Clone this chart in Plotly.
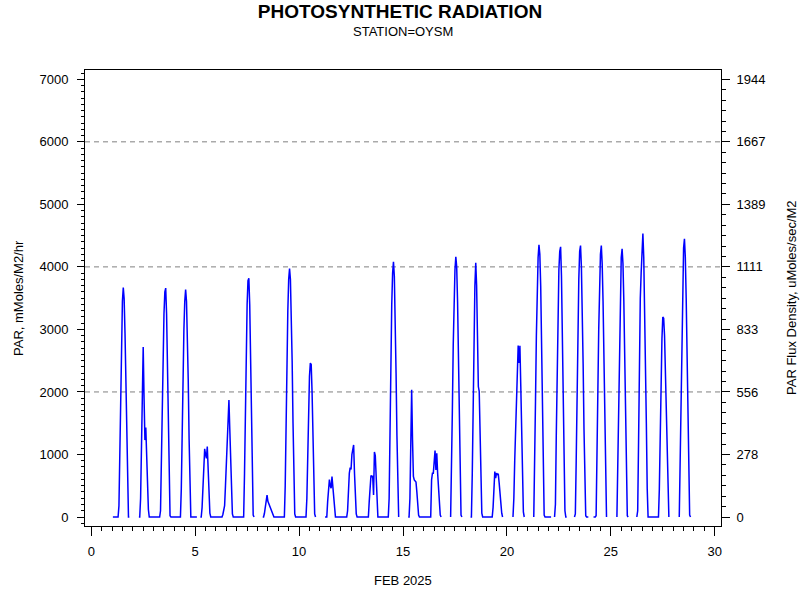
import plotly.graph_objects as go

N = None

# Hourly PAR values (mMoles/M2/hr), hours 0..23 for each day of FEB 2025 (None = missing)
day01 = [N,0,0,0,0,0,0,0,180,1100,2130,2940,3450,3670,3490,2940,2060,1030,150,0,0,N,N,N]
day02 = [N,N,N,N,N,N,N,0,0,300,1200,2100,2720,1900,1230,1430,900,450,120,0,0,0,0,0]
day03 = [0,0,0,0,0,0,0,0,100,900,1900,2700,3250,3600,3660,3250,2500,1500,500,20,0,0,0,0]
day04 = [0,0,0,0,0,0,0,0,450,1450,2350,3000,3450,3636,3450,2950,2200,1250,350,0,0,0,0,0]
day05 = [0,0,0,N,N,N,0,0,150,550,900,1090,1000,940,1126,700,300,60,0,0,0,0,0,0]
day06 = [0,0,0,0,0,0,0,0,40,100,180,500,900,1350,1700,1869,1400,800,300,50,0,0,0,0]
day07 = [0,0,0,0,0,0,0,0,0,700,1800,2750,3400,3780,3820,3400,2600,1500,500,30,0,N,N,N]
day08 = [N,N,N,N,N,N,0,0,60,180,280,350,250,210,180,150,100,50,10,0,0,0,0,0]
day09 = [0,0,0,0,0,0,0,0,500,1600,2600,3300,3800,3972,3800,3300,2500,1500,500,50,0,0,0,0]
day10 = [0,0,0,0,0,0,0,0,0,300,1100,1800,2250,2462,2440,2000,1300,500,50,0,N,N,N,N]
day11 = [N,N,N,N,N,N,0,0,0,250,450,600,500,460,646,450,250,80,0,0,0,0,0,0]
day12 = [0,0,0,0,0,0,0,0,100,450,700,790,760,1000,1126,1153,700,300,50,0,0,0,0,0]
day13 = [0,0,0,0,0,0,0,0,0,250,600,662,646,650,352,1040,980,550,150,0,0,0,0,0]
day14 = [0,0,0,0,0,0,0,0,300,1500,2600,3400,3900,4080,3850,3200,2300,1300,300,0,N,N,N,N]
day15 = [N,N,N,N,N,N,0,0,300,1200,2034,1233,650,593,570,560,400,200,30,0,0,0,0,0]
day16 = [0,0,0,0,0,0,0,0,0,593,700,700,850,1062,753,1020,700,400,200,30,0,N,N,N]
day17 = [N,N,N,N,N,N,N,0,600,1700,2750,3500,3950,4160,4000,3450,2600,1500,500,30,0,N,N,N]
day18 = [N,N,N,N,N,N,0,0,700,1900,3000,3700,4064,3700,2900,2087,2010,1100,400,60,0,0,0,0]
day19 = [0,0,0,0,0,0,0,0,150,450,726,620,700,680,690,550,350,200,60,0,N,N,N,N]
day20 = [N,N,N,N,N,N,N,0,300,900,1300,1800,2300,2744,2462,2739,2100,1200,500,80,0,N,N,N]
day21 = [N,N,N,N,N,N,N,0,650,1850,2900,3650,4150,4352,4200,3700,2850,1800,600,30,0,0,0,0]
day22 = [0,0,0,0,N,N,N,0,200,1300,2500,3400,3950,4250,4320,3850,3000,1900,800,100,0,0,N,N]
day23 = [N,N,N,N,N,N,0,50,900,2100,3100,3800,4250,4341,4000,3350,2450,1400,400,20,0,0,0,N]
day24 = [N,N,N,N,0,0,0,20,750,2000,3000,3750,4200,4341,4050,3450,2550,1500,450,0,N,N,N,N]
day25 = [N,N,N,N,N,N,N,0,800,1950,2950,3700,4150,4288,4050,3450,2600,1550,500,20,0,N,N,N]
day26 = [N,N,N,N,N,N,0,100,1200,2500,3500,3903,4200,4533,4150,3450,2550,1500,450,0,0,0,0,0]
day27 = [0,0,0,0,0,0,0,0,450,1400,2200,2850,3200,3180,2900,2350,1650,950,300,0,N,N,N,N]
day28 = [N,N,N,N,N,N,N,0,800,2050,3100,3850,4300,4448,4150,3500,2600,1500,450,30,0,N,N,N]

DAYS = [day01, day02, day03, day04, day05, day06, day07, day08, day09, day10,
        day11, day12, day13, day14, day15, day16, day17, day18, day19, day20,
        day21, day22, day23, day24, day25, day26, day27, day28]

X_TICKS = [0, 5, 10, 15, 20, 25, 30]
Y_TICKS = [0, 1000, 2000, 3000, 4000, 5000, 6000, 7000]
Y2_TICK_LABELS = ["0", "278", "556", "833", "1111", "1389", "1667", "1944"]
GRID_LEVELS = [2000, 4000, 6000]
CONV = 3.6  # mMoles/M2/hr -> uMoles/sec/M2

x, y = [], []
for d, vals in enumerate(DAYS, start=1):
    for h, v in enumerate(vals):
        x.append(d + h / 24)
        y.append(v)

Y_RANGE = [-144, 7149]
X_RANGE = [-0.3, 30.3]

fig = go.Figure()
fig.add_trace(go.Scatter(x=x, y=y, mode="lines", line=dict(color="#0000FF", width=1.5),
                         connectgaps=False, showlegend=False, hoverinfo="skip"))
# invisible trace to activate right axis
fig.add_trace(go.Scatter(x=[X_RANGE[0]], y=[0], yaxis="y2", mode="markers",
                         marker=dict(opacity=0), showlegend=False, hoverinfo="skip"))

for g in GRID_LEVELS:
    fig.add_shape(type="line", xref="paper", x0=0, x1=1, yref="y", y0=g, y1=g,
                  line=dict(color="#808080", width=1, dash="5px,4px"), layer="below")

FONT = "Liberation Sans, Arial, sans-serif"
fig.update_layout(
    width=800, height=600,
    margin=dict(l=85, r=79, t=70, b=74),
    paper_bgcolor="white", plot_bgcolor="white",
    font=dict(family=FONT, size=13, color="black"),
    title=dict(text="<b>PHOTOSYNTHETIC RADIATION</b>", x=0.5, xanchor="center",
               y=1 - 11 / 600, yanchor="middle", font=dict(size=19, family=FONT, color="black")),
    xaxis=dict(range=X_RANGE, tickvals=X_TICKS, showgrid=False, zeroline=False,
               showline=True, linecolor="black", linewidth=1, mirror=True,
               ticks="outside", ticklen=9, tickcolor="black", tickwidth=1,
               ticklabelstandoff=4,
               minor=dict(dtick=0.5, tick0=0, ticks="outside", ticklen=4, tickcolor="black", showgrid=False)),
    yaxis=dict(range=Y_RANGE, tickvals=Y_TICKS, showgrid=False, zeroline=False,
               showline=True, linecolor="black", linewidth=1,
               ticks="outside", ticklen=7, tickcolor="black", tickwidth=1,
               ticklabelstandoff=6,
               minor=dict(dtick=100, tick0=0, ticks="outside", ticklen=3, tickcolor="black", showgrid=False)),
    yaxis2=dict(range=[Y_RANGE[0] / CONV, Y_RANGE[1] / CONV], overlaying="y", side="right",
                tickvals=[v / CONV for v in Y_TICKS], ticktext=Y2_TICK_LABELS,
                showgrid=False, zeroline=False, showline=True, linecolor="black", linewidth=1,
                ticks="outside", ticklen=8, tickcolor="black", tickwidth=1,
                ticklabelstandoff=4,
                minor=dict(dtick=1000 / CONV / 6, tick0=0, ticks="outside", ticklen=4,
                           tickcolor="black", showgrid=False)),
)

PLOT_W, PLOT_H = 636, 456
fig.add_annotation(text="STATION=OYSM", xref="paper", yref="paper", x=0.5,
                   y=1 + (70 - 31) / PLOT_H, showarrow=False, yanchor="middle",
                   font=dict(size=13, family=FONT))
fig.add_annotation(text="FEB 2025", xref="paper", yref="paper", x=(403 - 85) / PLOT_W,
                   y=-(580 - 526) / PLOT_H, showarrow=False, yanchor="middle",
                   font=dict(size=13, family=FONT))
fig.add_annotation(text="PAR, mMoles/M2/hr", xref="paper", yref="paper",
                   x=(18 - 85) / PLOT_W, y=0.5, textangle=-90, showarrow=False,
                   xanchor="center", yanchor="middle", font=dict(size=13, family=FONT))
fig.add_annotation(text="PAR Flux Density, uMoles/sec/M2", xref="paper", yref="paper",
                   x=(791 - 85) / PLOT_W, y=0.5, textangle=-90, showarrow=False,
                   xanchor="center", yanchor="middle", font=dict(size=13, family=FONT))

fig.write_html("out.html", config={"displayModeBar": False},
               post_script="document.body.style.margin='0';document.body.style.overflow='hidden';")
